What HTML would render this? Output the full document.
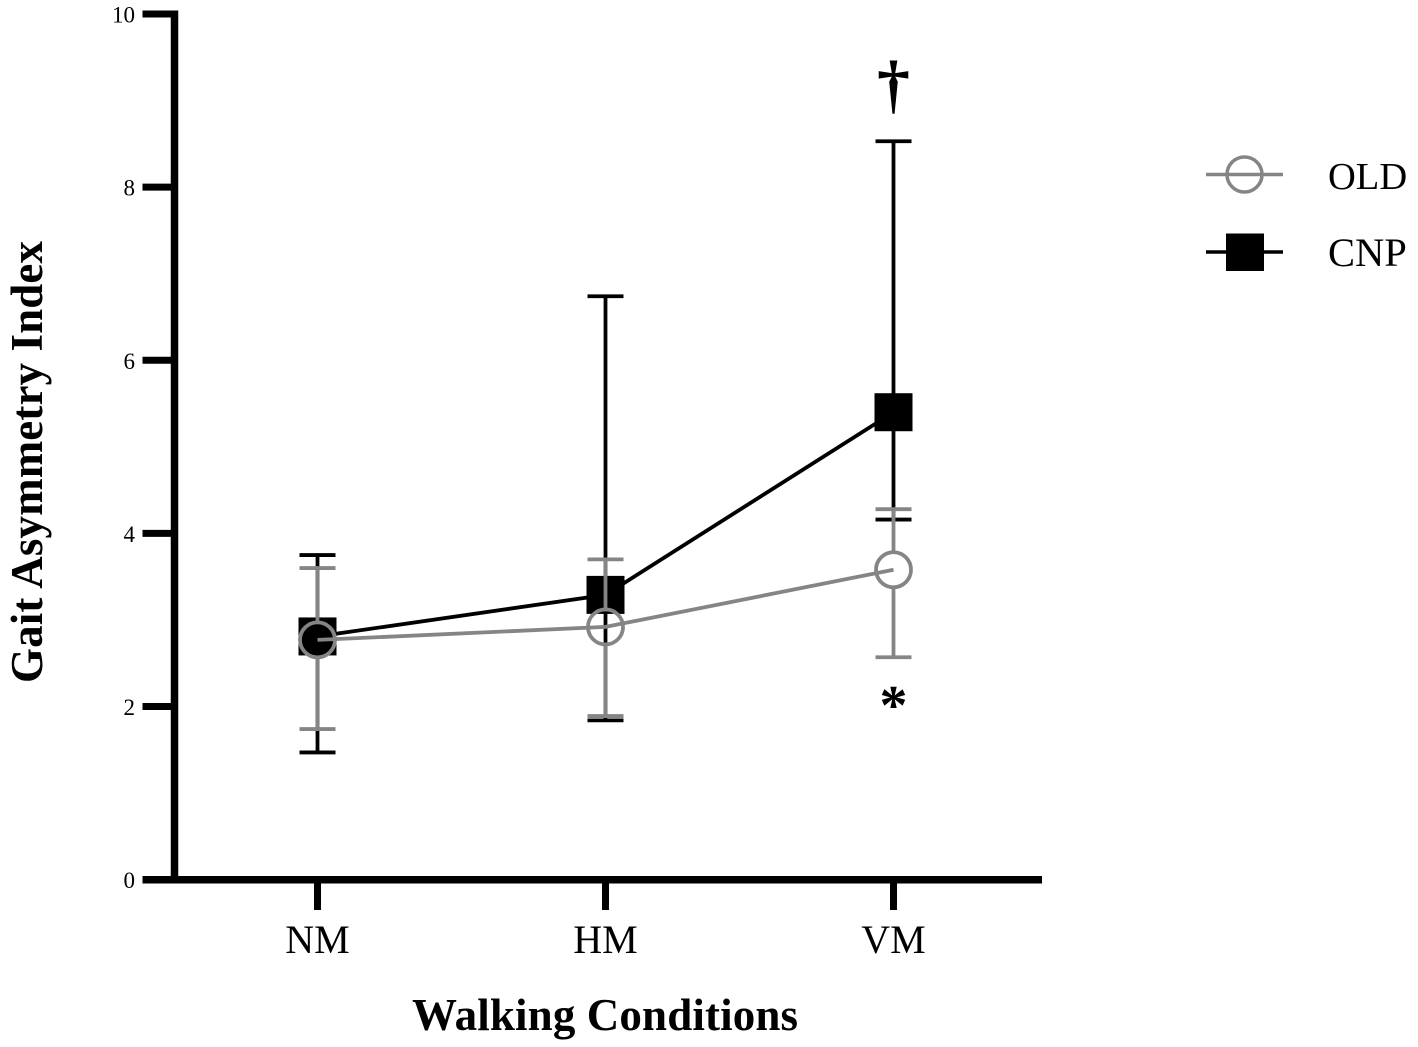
<!DOCTYPE html>
<html lang="en">
<head>
<meta charset="utf-8">
<title>Gait Asymmetry Index</title>
<style>
html,body{margin:0;padding:0;background:#fff}
svg{display:block;font-family:"Liberation Serif",serif}
</style>
</head>
<body>
<svg id="chart" xmlns="http://www.w3.org/2000/svg" width="1418" height="1047" viewBox="0 0 1418 1047">
<rect width="1418" height="1047" fill="#fff"/>
<g id="plot"></g>
<text transform="translate(42,683) rotate(-90)" font-size="45" font-weight="700" textLength="442" lengthAdjust="spacing" fill="#000">Gait Asymmetry Index</text>
<text x="412" y="1030" font-size="45" font-weight="700" textLength="386" lengthAdjust="spacing" fill="#000">Walking Conditions</text>
<text x="893.5" y="106" font-size="66" font-weight="700" text-anchor="middle" fill="#000">†</text>
<text x="893.5" y="724" font-size="56" font-weight="700" text-anchor="middle" fill="#000">*</text>
<g>
<g>
<line x1="1206" x2="1283" y1="174.5" y2="174.5" stroke="#858585" stroke-width="3.5"/>
<circle cx="1244.5" cy="174.5" r="17.5" fill="none" stroke="#858585" stroke-width="3.5"/>
<text x="1328" y="189" font-size="38.5" fill="#000">OLD</text>
</g>
<g>
<line x1="1206" x2="1283" y1="252" y2="252" stroke="#000" stroke-width="3.5"/>
<rect x="1226" y="233.5" width="38" height="37.5" fill="#000"/>
<text x="1328" y="266" font-size="40.5" fill="#000">CNP</text>
</g>
</g>
</svg>
<script>
const categories = ["NM", "HM", "VM"];
const yTicks = [0, 2, 4, 6, 8, 10];
const cnpMean = [2.81, 3.29, 5.40];
const cnpUpper = [3.75, 6.74, 8.53];
const cnpLower = [1.47, 1.84, 4.16];
const oldMean = [2.77, 2.92, 3.58];
const oldUpper = [3.60, 3.70, 4.28];
const oldLower = [1.74, 1.89, 2.57];

const NS = "http://www.w3.org/2000/svg";
const plot = document.getElementById("plot");
const GREY = "#858585";
const BLACK = "#000";
const CIRCLE_R = 17.5;
const MARK_W = 3.8;

function yScale(v) { return 879.7 - v * 86.57; }
function xScale(i) { return 317.5 + i * 288; }

function add(tag, attrs, text) {
  const el = document.createElementNS(NS, tag);
  for (const k in attrs) el.setAttribute(k, attrs[k]);
  if (text !== undefined) el.textContent = text;
  plot.appendChild(el);
  return el;
}
function seg(x1, y1, x2, y2, color, w) {
  return add("line", { x1: x1, y1: y1, x2: x2, y2: y2, stroke: color, "stroke-width": w });
}

// Series: CNP first, OLD drawn over it
categories.forEach(function (c, i) {
  const x = xScale(i);
  const stem = seg(x, yScale(cnpUpper[i]), x, yScale(cnpLower[i]), BLACK, MARK_W);
  
  
  const capA = seg(x - 18, yScale(cnpUpper[i]), x + 18, yScale(cnpUpper[i]), BLACK, MARK_W);
  
  
  const capB = seg(x - 18, yScale(cnpLower[i]), x + 18, yScale(cnpLower[i]), BLACK, MARK_W);
  
  
});
const cnpPath = add("polyline", {
  points: cnpMean.map(function (v, i) { return xScale(i) + "," + yScale(v); }).join(" "),
  fill: "none", stroke: BLACK, "stroke-width": MARK_W
});


categories.forEach(function (c, i) {
  const sq = add("rect", { x: xScale(i) - 19, y: yScale(cnpMean[i]) - 19, width: 38, height: 38, fill: BLACK });
  
  
});
categories.forEach(function (c, i) {
  const x = xScale(i);
  const cy = yScale(oldMean[i]);
  const top = seg(x, yScale(oldUpper[i]), x, cy - CIRCLE_R, GREY, MARK_W);
  
  
  const bottom = seg(x, cy + CIRCLE_R, x, yScale(oldLower[i]), GREY, MARK_W);
  
  
  const capA = seg(x - 18, yScale(oldUpper[i]), x + 18, yScale(oldUpper[i]), GREY, MARK_W);
  
  
  const capB = seg(x - 18, yScale(oldLower[i]), x + 18, yScale(oldLower[i]), GREY, MARK_W);
  
  
});
const oldPath = add("polyline", {
  points: oldMean.map(function (v, i) { return xScale(i) + "," + yScale(v); }).join(" "),
  fill: "none", stroke: GREY, "stroke-width": MARK_W
});


categories.forEach(function (c, i) {
  const pt = add("circle", { cx: xScale(i), cy: yScale(oldMean[i]), r: CIRCLE_R, fill: "none", stroke: GREY, "stroke-width": MARK_W });
  
  
});

// Axes
const yAxis = add("line", { x1: 174.5, x2: 174.5, y1: yScale(10) - 3.5, y2: yScale(0) + 3.5, stroke: BLACK, "stroke-width": 7.5 });


const xAxis = add("line", { x1: 142.5, x2: 1042, y1: yScale(0), y2: yScale(0), stroke: BLACK, "stroke-width": 7.5 });



yTicks.forEach(function (t) {
  const y = yScale(t);
  const tick = seg(142.5, y, 174.5, y, BLACK, 7);
  
  
  const label = add("text", { x: 135, y: y + 8.5, "font-size": 23, "text-anchor": "end", fill: BLACK }, String(t));
  
  
});
categories.forEach(function (c, i) {
  const x = xScale(i);
  const tick = seg(x, yScale(0), x, 910, BLACK, 7);
  
  
  const label = add("text", { x: x, y: 953, "font-size": 40, "text-anchor": "middle", fill: BLACK }, c);
  
  
});
</script>
</body>
</html>
